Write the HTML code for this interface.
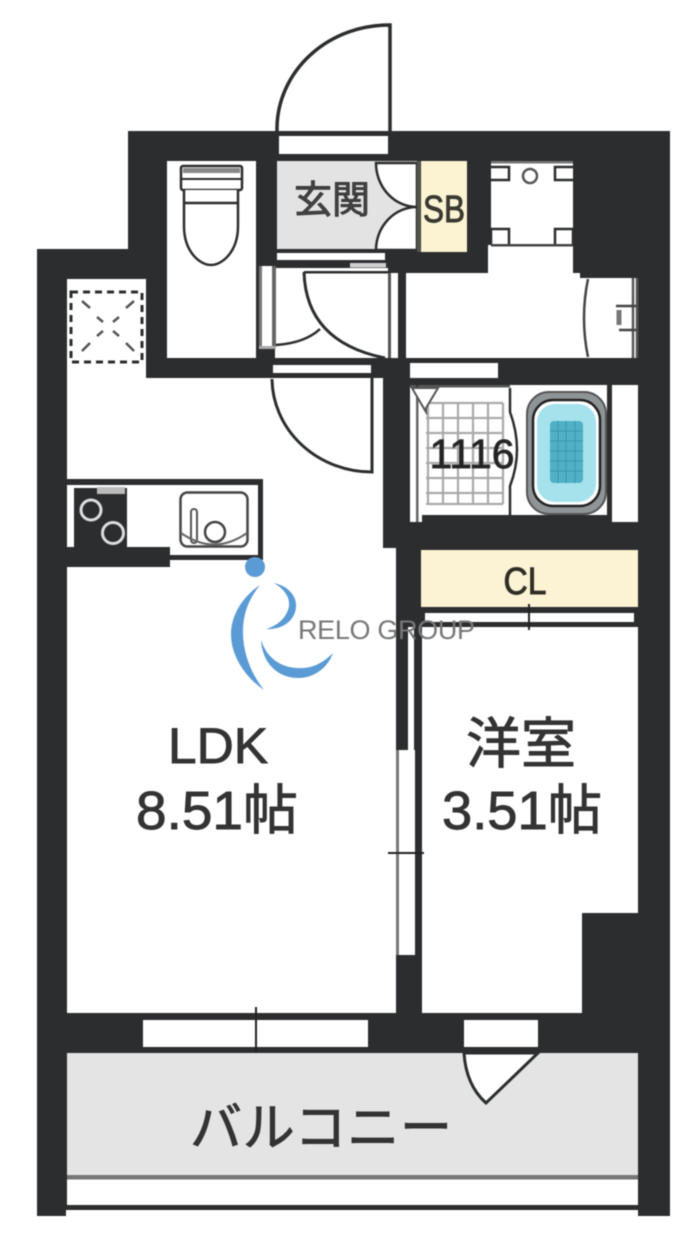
<!DOCTYPE html>
<html lang="ja">
<head>
<meta charset="utf-8">
<title>間取り図</title>
<style>
html,body{margin:0;padding:0;background:#fff}
svg{display:block;filter:blur(.5px)}
text{font-family:"Liberation Sans","Noto Sans CJK JP",sans-serif}
.b{stroke:#333;stroke-width:.9px}
</style>
</head>
<body>
<svg xmlns="http://www.w3.org/2000/svg" width="700" height="1247" viewBox="0 0 700 1247">
<rect width="700" height="1247" fill="#fff"/>

<!-- entrance door -->
<path d="M277 131V127A112 104 0 0 1 390 25V131" fill="#fff" stroke="#2b2d2f" stroke-width="3.5"/>

<!-- wall mass -->
<path d="M37 249H128V131H670V1216H638V1210H66V1216H37Z" fill="#2b2d2f"/>

<!-- LDK -->
<path d="M67 279H146V378H383V548H396V1013H67Z" fill="#fff"/>
<!-- Western room -->
<path d="M422 627H638V913H582V1013H422Z" fill="#fff"/>
<!-- Toilet -->
<rect x="167" y="161" width="89" height="197" fill="#fff"/>
<!-- entrance strip -->
<rect x="279" y="136" width="109" height="18" fill="#fff"/>
<!-- Genkan -->
<rect x="277" y="161" width="140" height="88" fill="#e3e3e3"/>
<rect x="277" y="253" width="108" height="7" fill="#fff"/>
<!-- shoe box doors -->
<path d="M376 163A41 44 0 0 0 417 207V163Z" fill="#fff" stroke="#2b2d2f" stroke-width="2.5"/>
<path d="M376 250A41 43 0 0 1 417 207V250Z" fill="#fff" stroke="#2b2d2f" stroke-width="2.5"/>
<rect x="417" y="161" width="3.5" height="91" fill="#55554c"/>
<rect x="421" y="161" width="46" height="91" fill="#fbf3d2"/>

<!-- Hall -->
<rect x="275" y="268" width="113" height="90" fill="#fff"/>
<rect x="350" y="263" width="36" height="4.5" fill="#cfcfcf"/>
<rect x="262" y="266" width="10" height="80" fill="#fff"/>
<rect x="259" y="266" width="3" height="80" fill="#777"/>
<rect x="272" y="266" width="4" height="80" fill="#666"/>
<rect x="259" y="346" width="17" height="3" fill="#aaa"/>
<path d="M276 345Q305 343 320 329" fill="none" stroke="#2b2d2f" stroke-width="2.5"/>
<path d="M304 272Q306 342 385 358" fill="none" stroke="#2b2d2f" stroke-width="3"/>
<rect x="304" y="271" width="84" height="2.5" fill="#2b2d2f"/>
<rect x="388" y="273" width="3" height="85" fill="#555"/>
<rect x="391" y="273" width="7" height="85" fill="#fff"/>
<rect x="398" y="273" width="8" height="85" fill="#2b2d2f"/>

<!-- Washroom -->
<path d="M406 273H488V245H491V161H573V273H580V278H638V358H406Z" fill="#fff"/>
<rect x="491" y="161" width="82" height="2.5" fill="#777"/>
<rect x="491" y="244" width="82" height="2.5" fill="#444"/>
<g fill="none" stroke="#2b2d2f" stroke-width="2.5">
<path d="M491 167H509V180H491"/>
<path d="M573 167H555V180H573"/>
<path d="M491 244V229H509V244"/>
<path d="M573 244V229H555V244"/>
<circle cx="530" cy="176" r="7" stroke="#555"/>
<path d="M588 279Q580 318 588 357" stroke="#444"/>
<path d="M633 278V358M637 278V358" stroke="#555"/>
<path d="M616 306H637M619 330H637" stroke="#444"/>
<path d="M619 310V325" stroke="#777" stroke-width="5"/>
</g>

<!-- strip hall bottom / LDK door -->
<rect x="273" y="365" width="98" height="8" fill="#fff"/>
<path d="M272 379A100 94 0 0 0 372 472V378" fill="#fff" stroke="#2b2d2f" stroke-width="3"/>

<!-- vent -->
<rect x="71" y="292" width="71" height="70" fill="#fff" stroke="#2b2d2f" stroke-width="3" stroke-dasharray="7 5"/>
<g stroke="#555" stroke-width="2.5">
<path d="M82 301L90 308M134 301L126 308M82 351L90 343M134 351L126 343"/>
<path d="M97 317L103 322M119 317L113 322M97 336L103 331M119 336L113 331"/>
</g>

<!-- kitchen -->
<rect x="67" y="479" width="196" height="6" fill="#2b2d2f"/>
<rect x="258" y="479" width="5" height="81" fill="#2b2d2f"/>
<rect x="67" y="547" width="103" height="20" fill="#2b2d2f"/>
<rect x="170" y="555" width="93" height="5" fill="#2b2d2f"/>
<rect x="74" y="488" width="53" height="60" fill="#2b2d2f"/>
<rect x="97" y="487" width="28" height="7" fill="#bbb"/>
<circle cx="91" cy="510" r="10" fill="none" stroke="#ddd" stroke-width="3"/>
<circle cx="113" cy="533" r="10.500" fill="none" stroke="#ddd" stroke-width="3"/>
<rect x="180.500" y="492.500" width="67" height="54" rx="7" fill="#fff" stroke="#444" stroke-width="2.500"/>
<rect x="191" y="509" width="6" height="34" rx="3" fill="#fff" stroke="#555" stroke-width="2"/>
<circle cx="215" cy="532" r="10" fill="none" stroke="#444" stroke-width="2.500"/>
<path d="M181 533Q214 556 247 533" fill="none" stroke="#666" stroke-width="2"/>

<!-- toilet -->
<rect x="181" y="166" width="61" height="24" rx="2" fill="#fff" stroke="#2b2d2f" stroke-width="2.500"/>
<rect x="183" y="168" width="57" height="5" fill="#888"/>
<path d="M181 179H242" stroke="#2b2d2f" stroke-width="2"/>
<path d="M184 190V226C184 252 200 265 211 265C222 265 238 252 238 226V190" fill="#fff" stroke="#2b2d2f" stroke-width="2.500"/>
<path d="M184 203H238" stroke="#2b2d2f" stroke-width="2.500"/>

<!-- bath window -->
<rect x="410" y="363" width="88" height="15" fill="#fff"/>
<!-- bathroom -->
<rect x="410" y="385" width="197" height="130" fill="#fff"/>
<rect x="410" y="515" width="6" height="7" fill="#fff"/>
<rect x="418" y="515" width="4" height="7" fill="#fff"/>
<rect x="416" y="385" width="2.500" height="137" fill="#666"/>
<rect x="607" y="385" width="5" height="137" fill="#2b2d2f"/>
<rect x="612" y="385" width="26" height="137" fill="#fff"/>
<rect x="410" y="385" width="100" height="2.500" fill="#2b2d2f" opacity=".8"/>
<g stroke="#aaa" stroke-width="2.200" fill="none">
<path d="M426 403H503M426 418H503M426 433H503M426 448H503M426 463H503M426 478H503M426 493H503M426 504H503"/>
<path d="M428 403V504M443 403V504M458 403V504M473 403V504M488 403V504M503 403V504"/>
</g>
<path d="M412 388H438L426 408V412L412 388Z" fill="#fff" stroke="#555" stroke-width="2"/>
<path d="M510 388V412Q524 450 510 486V515" fill="none" stroke="#2b2d2f" stroke-width="2.500"/>
<rect x="527" y="392" width="79" height="122" rx="22" fill="#8f9597" stroke="#555" stroke-width="2"/>
<rect x="533" y="400" width="67" height="106" rx="20" fill="#fff" stroke="#222" stroke-width="2.500"/>
<rect x="537" y="404" width="59" height="98" rx="18" fill="#a5e2ec"/>
<rect x="550" y="421" width="33" height="62" rx="4" fill="#4fb0c6"/>
<g stroke="#3c97ae" stroke-width="1">
<path d="M550 431H583M550 441H583M550 451H583M550 461H583M550 471H583M558 421V483M566 421V483M575 421V483"/>
</g>

<!-- CL -->
<rect x="421" y="550" width="217" height="57" fill="#fbf3d3"/>
<rect x="425" y="613" width="209" height="9" fill="#fff"/>
<path d="M529 604V630" stroke="#222" stroke-width="2"/>

<!-- partition -->
<rect x="408" y="627" width="6" height="123" fill="#fff"/>
<rect x="399" y="750" width="16" height="205" fill="#fff"/>
<rect x="396" y="750" width="3" height="205" fill="#777"/>
<path d="M388 853H424" stroke="#222" stroke-width="2"/>

<!-- bottom windows -->
<rect x="143" y="1020" width="225" height="27" fill="#fff"/>
<path d="M256 1007V1061" stroke="#222" stroke-width="2"/>
<rect x="464" y="1020" width="74" height="27" fill="#fff"/>

<!-- balcony -->
<rect x="67" y="1053" width="571" height="122" fill="#e4e4e4"/>
<rect x="67" y="1175" width="571" height="4.500" fill="#777"/>
<rect x="67" y="1179.500" width="571" height="25.500" fill="#fff"/>
<path d="M464 1053H538L486 1103Q466 1085 464 1053Z" fill="#fff" stroke="#2b2d2f" stroke-width="3"/>

<!-- logo -->
<circle cx="255" cy="567" r="10" fill="#5b9bd5"/>
<g fill="#5b9bd5">
<path d="M260 585C238 600 231 620 231 634C231 656 245 677 264 690C250 672 243 652 243 632C243 615 248 600 260 585Z"/>
<path d="M274 583C288 586 297 596 296 607C295 621 282 630 266 629C279 625 287 617 289 606C290 597 284 589 274 583Z"/>
<path d="M261 640C262 662 277 678 298 678C315 678 328 667 333 653C323 663 312 669 297 668C280 667 267 658 261 640Z"/>
</g>

<!-- labels -->
<text x="298" y="639" font-size="27" fill="#777" textLength="177" lengthAdjust="spacing">RELO GROUP</text>
<text x="332" y="213" font-size="38" fill="#444" text-anchor="middle" textLength="76" class="b">玄関</text>
<text x="444" y="222" font-size="38" fill="#3a3a30" text-anchor="middle" textLength="42" lengthAdjust="spacingAndGlyphs" class="b">SB</text>
<text x="472" y="468" font-size="41" fill="#222" text-anchor="middle" textLength="85" lengthAdjust="spacingAndGlyphs" class="b">1116</text>
<text x="525" y="594" font-size="38" fill="#2f2c20" text-anchor="middle" textLength="43" lengthAdjust="spacingAndGlyphs" class="b">CL</text>
<text x="218" y="763" font-size="50" fill="#333" text-anchor="middle" textLength="100" lengthAdjust="spacingAndGlyphs" class="b">LDK</text>
<text x="217" y="829" font-size="54" fill="#333" text-anchor="middle" textLength="162" lengthAdjust="spacingAndGlyphs" class="b">8.51帖</text>
<text x="521" y="763" font-size="55" fill="#333" text-anchor="middle" textLength="110" class="b">洋室</text>
<text x="522" y="829" font-size="54" fill="#333" text-anchor="middle" textLength="160" lengthAdjust="spacingAndGlyphs" class="b">3.51帖</text>
<text x="321" y="1146" font-size="52" fill="#333" text-anchor="middle" textLength="262" class="b">バルコニー</text>
</svg>
</body>
</html>
